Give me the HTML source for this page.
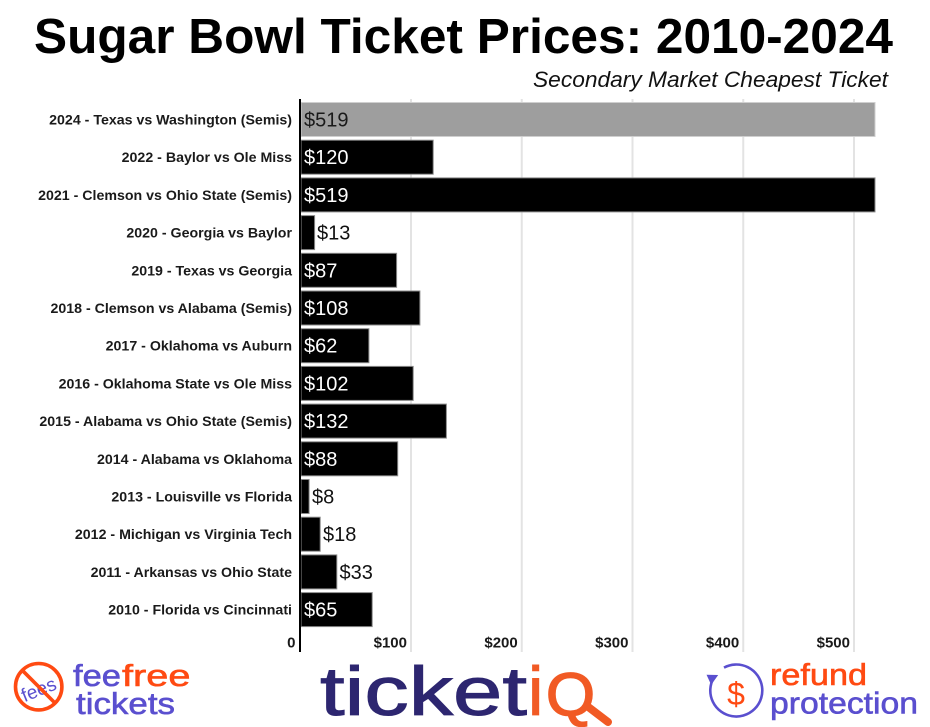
<!DOCTYPE html>
<html>
<head>
<meta charset="utf-8">
<style>
  html, body { margin: 0; padding: 0; background: #ffffff; }
  svg { display: block; }
  text { font-family: "Liberation Sans", Arial, sans-serif; }
</style>
</head>
<body>
<svg width="930" height="727" viewBox="0 0 930 727" xmlns="http://www.w3.org/2000/svg">
  <rect x="0" y="0" width="930" height="727" fill="#ffffff"/>

  <!-- Title -->
  <text x="34" y="53" font-size="49" font-weight="bold" fill="#000" textLength="859" lengthAdjust="spacingAndGlyphs">Sugar Bowl Ticket Prices: 2010-2024</text>
  <text x="533" y="87" font-size="22.5" font-style="italic" fill="#111" textLength="355" lengthAdjust="spacingAndGlyphs">Secondary Market Cheapest Ticket</text>

  <!-- Gridlines -->
  <g stroke="#e3e3e3" stroke-width="2">
    <line x1="411" y1="99" x2="411" y2="652"/>
    <line x1="521.75" y1="99" x2="521.75" y2="652"/>
    <line x1="632.5" y1="99" x2="632.5" y2="652"/>
    <line x1="743.25" y1="99" x2="743.25" y2="652"/>
    <line x1="854" y1="99" x2="854" y2="652"/>
  </g>

  <!-- Bars -->
  <g stroke-width="1">
    <rect x="301" y="102.5" width="574.0" height="34" fill="#9e9e9e" stroke="#cfcfcf"/>
    <rect x="301" y="140.2" width="132.2" height="34" fill="#000" stroke="#8a8a8a"/>
    <rect x="301" y="177.9" width="574.0" height="34" fill="#000" stroke="#8a8a8a"/>
    <rect x="301" y="215.6" width="13.6" height="34" fill="#000" stroke="#8a8a8a"/>
    <rect x="301" y="253.3" width="95.6" height="34" fill="#000" stroke="#8a8a8a"/>
    <rect x="301" y="291.0" width="118.9" height="34" fill="#000" stroke="#8a8a8a"/>
    <rect x="301" y="328.7" width="67.9" height="34" fill="#000" stroke="#8a8a8a"/>
    <rect x="301" y="366.4" width="112.2" height="34" fill="#000" stroke="#8a8a8a"/>
    <rect x="301" y="404.1" width="145.4" height="34" fill="#000" stroke="#8a8a8a"/>
    <rect x="301" y="441.8" width="96.7" height="34" fill="#000" stroke="#8a8a8a"/>
    <rect x="301" y="479.5" width="8.1" height="34" fill="#000" stroke="#8a8a8a"/>
    <rect x="301" y="517.2" width="19.2" height="34" fill="#000" stroke="#8a8a8a"/>
    <rect x="301" y="554.9" width="35.8" height="34" fill="#000" stroke="#8a8a8a"/>
    <rect x="301" y="592.6" width="71.2" height="34" fill="#000" stroke="#8a8a8a"/>
  </g>

  <!-- Axis line -->
  <line x1="300" y1="99" x2="300" y2="652" stroke="#000" stroke-width="2"/>

  <!-- Category labels -->
  <g font-size="14.2" font-weight="bold" fill="#1a1a1a" text-anchor="end">
    <text x="292" y="124.5">2024 - Texas vs Washington (Semis)</text>
    <text x="292" y="162.2">2022 - Baylor vs Ole Miss</text>
    <text x="292" y="199.9">2021 - Clemson vs Ohio State (Semis)</text>
    <text x="292" y="237.6">2020 - Georgia vs Baylor</text>
    <text x="292" y="275.3">2019 - Texas vs Georgia</text>
    <text x="292" y="313.0">2018 - Clemson vs Alabama (Semis)</text>
    <text x="292" y="350.7">2017 - Oklahoma vs Auburn</text>
    <text x="292" y="388.4">2016 - Oklahoma State vs Ole Miss</text>
    <text x="292" y="426.1">2015 - Alabama vs Ohio State (Semis)</text>
    <text x="292" y="463.8">2014 - Alabama vs Oklahoma</text>
    <text x="292" y="501.5">2013 - Louisville vs Florida</text>
    <text x="292" y="539.2">2012 - Michigan vs Virginia Tech</text>
    <text x="292" y="576.9">2011 - Arkansas vs Ohio State</text>
    <text x="292" y="614.6">2010 - Florida vs Cincinnati</text>
  </g>

  <!-- Value labels -->
  <g font-size="20">
    <text x="304" y="126.5" fill="#1a1a1a">$519</text>
    <text x="304" y="164.2" fill="#fff">$120</text>
    <text x="304" y="201.9" fill="#fff">$519</text>
    <text x="317" y="239.6" fill="#111">$13</text>
    <text x="304" y="277.3" fill="#fff">$87</text>
    <text x="304" y="315.0" fill="#fff">$108</text>
    <text x="304" y="352.7" fill="#fff">$62</text>
    <text x="304" y="390.4" fill="#fff">$102</text>
    <text x="304" y="428.1" fill="#fff">$132</text>
    <text x="304" y="465.8" fill="#fff">$88</text>
    <text x="312" y="503.5" fill="#111">$8</text>
    <text x="323" y="541.2" fill="#111">$18</text>
    <text x="339.5" y="578.9" fill="#111">$33</text>
    <text x="304" y="616.6" fill="#fff">$65</text>
  </g>

  <!-- Axis tick labels -->
  <g font-size="15" font-weight="bold" fill="#1a1a1a" text-anchor="end">
    <text x="295.5" y="647.5">0</text>
    <text x="407" y="647.5">$100</text>
    <text x="517.75" y="647.5">$200</text>
    <text x="628.5" y="647.5">$300</text>
    <text x="739.25" y="647.5">$400</text>
    <text x="850" y="647.5">$500</text>
  </g>

  <!-- feefree tickets logo -->
  <g>
    <text x="38.5" y="696" font-size="19" fill="#5a4fcf" text-anchor="middle" transform="rotate(-22 38.5 689)">fees</text>
    <circle cx="38.7" cy="686.7" r="23.2" fill="none" stroke="#ff4a12" stroke-width="3.6"/>
    <line x1="22.3" y1="670.3" x2="55.1" y2="703.1" stroke="#ff4a12" stroke-width="3.6"/>
    <text x="73" y="686" font-size="31" fill="#5a4fcf" stroke="#5a4fcf" stroke-width="0.6" textLength="48" lengthAdjust="spacingAndGlyphs">fee</text>
    <text x="122" y="686" font-size="31" fill="#ff4a12" stroke="#ff4a12" stroke-width="0.6" textLength="68.5" lengthAdjust="spacingAndGlyphs">free</text>
    <text x="76" y="714" font-size="31" fill="#5a4fcf" stroke="#5a4fcf" stroke-width="0.6" textLength="99" lengthAdjust="spacingAndGlyphs">tickets</text>
  </g>

  <!-- ticketiQ logo -->
  <g>
    <text x="320" y="715" font-size="69" fill="#2d2670" stroke="#2d2670" stroke-width="1" textLength="207" lengthAdjust="spacingAndGlyphs">ticket</text>
    <text x="528" y="715" font-size="69" fill="#f15a24" stroke="#f15a24" stroke-width="1">i</text>
    <text x="546" y="715" font-size="60" fill="#f15a24" stroke="#f15a24" stroke-width="1.5" textLength="49" lengthAdjust="spacingAndGlyphs">Q</text>
    <line x1="587" y1="706" x2="608" y2="722" stroke="#f15a24" stroke-width="8" stroke-linecap="round"/>
  </g>

  <!-- refund protection logo -->
  <g>
    <path d="M 724 667.6 A 26 26 0 1 1 713.5 678" fill="none" stroke="#5a4fcf" stroke-width="2.6"/>
    <polygon points="709,672 719,678 708,683" fill="#5a4fcf" transform="rotate(-30 713 678)"/>
    <text x="736" y="705" font-size="32" fill="#ff4a12" text-anchor="middle">$</text>
    <text x="770" y="685" font-size="31" fill="#ff4a12" stroke="#ff4a12" stroke-width="0.6" textLength="97" lengthAdjust="spacingAndGlyphs">refund</text>
    <text x="770" y="713.3" font-size="31" fill="#5a4fcf" stroke="#5a4fcf" stroke-width="0.6" textLength="148" lengthAdjust="spacingAndGlyphs">protection</text>
  </g>
</svg>
</body>
</html>
